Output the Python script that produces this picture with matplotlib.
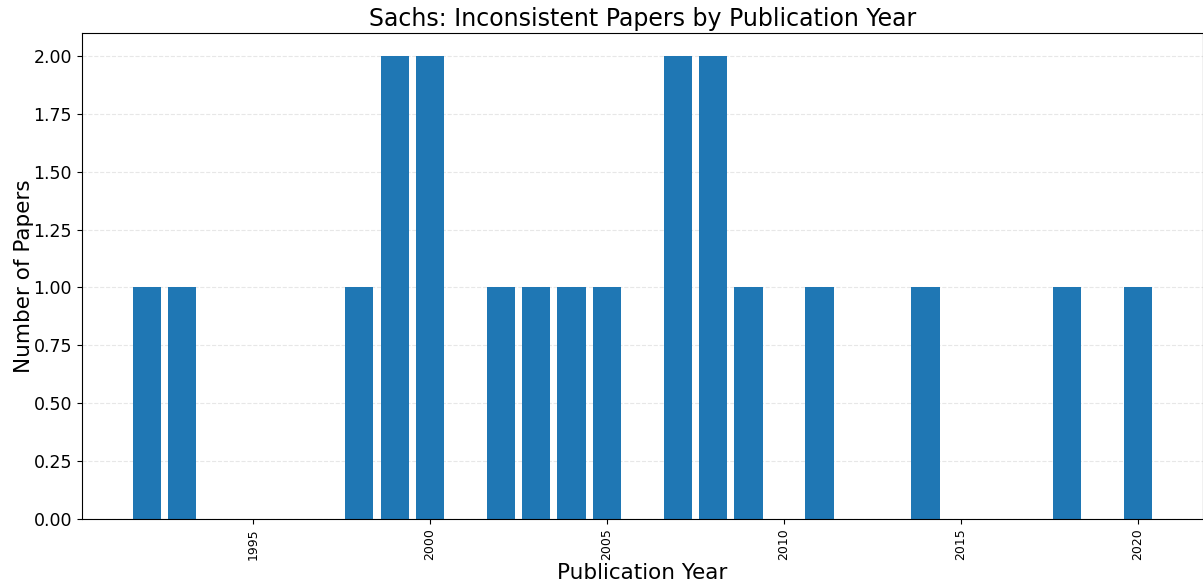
import matplotlib
matplotlib.use('Agg')
import matplotlib.pyplot as plt

years = [1992, 1993, 1998, 1999, 2000, 2002, 2003, 2004, 2005,
         2007, 2008, 2009, 2011, 2014, 2018, 2020]
counts = [1, 1, 1, 2, 2, 1, 1, 1, 1, 2, 2, 1, 1, 1, 1, 1]


def main():
    fig = plt.figure(figsize=(12.03, 5.85), dpi=100)
    ax = fig.add_subplot(1, 1, 1)
    ax.bar(years, counts, color='#1f77b4', width=0.8, zorder=2)

    ax.set_title('Sachs: Inconsistent Papers by Publication Year', fontsize=17, pad=5)
    ax.set_xlabel('Publication Year', fontsize=15.5, labelpad=2)
    ax.set_ylabel('Number of Papers', fontsize=15.5, labelpad=0)
    ax.tick_params(axis='y', labelsize=12.5)
    ax.tick_params(axis='x', labelsize=9, rotation=90)
    ax.grid(axis='y', linestyle='--', alpha=0.3, zorder=0)
    ax.set_axisbelow(True)

    fig.subplots_adjust(left=0.068, right=1.0, top=0.944, bottom=0.113)
    fig.savefig('out.png', dpi=100)


if __name__ == '__main__':
    main()
